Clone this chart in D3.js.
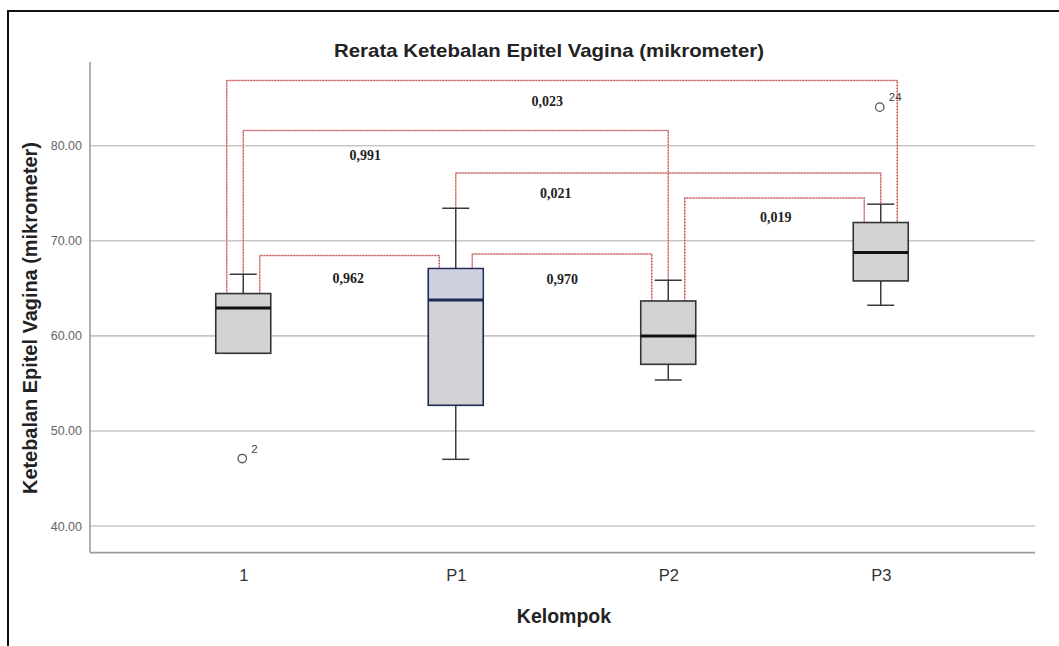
<!DOCTYPE html>
<html><head><meta charset="utf-8">
<script src="https://cdn.jsdelivr.net/npm/d3@7/dist/d3.min.js"></script>
<style>html,body{margin:0;padding:0;background:#fff;}svg{display:block;}</style>
</head><body>
<svg id="chart" width="1059" height="646"></svg>
<script>
// ---- data ----
const categories = ["1", "P1", "P2", "P3"];
const q1 = [58.17, 52.70, 57.01, 65.78];
const medians = [62.94, 63.78, 59.99, 68.76];
const q3 = [64.45, 67.08, 63.67, 71.92];
const whiskerLow = [58.17, 47.02, 55.36, 63.22];
const whiskerHigh = [66.48, 73.42, 65.85, 73.85];
const outlierGroups = ["1", "P3"];
const outlierValues = [47.1, 84.05];
const outlierLabels = ["2", "24"];
const yTicks = [40, 50, 60, 70, 80];
const bracketFrom = ["1", "P1", "P2", "1", "P1", "1"];
const bracketTo = ["P1", "P2", "P3", "P2", "P3", "P3"];
const bracketLevel = [68.45, 68.61, 74.5, 81.6, 77.13, 86.85];
const bracketText = ["0,962", "0,970", "0,019", "0,991", "0,021", "0,023"];
const bracketTextLevel = [66.0, 65.9, 72.4, 79.0, 74.97, 84.6];
const bracketTextPos = [0.494, 0.501, 0.506, 0.287, 0.235, 0.477];
const bracketLeftSide = [1, 1, 1, 0, 0, -1];
const bracketRightSide = [-1, -1, -1, 0, 0, 1];

// ---- layout ----
const svg = d3.select("#chart");
const plotL = 90, plotR = 1035, plotT = 62, plotB = 552.7;
const x = d3.scalePoint().domain(categories).range([137, 987]).padding(0.5);
const y = d3.scaleLinear().domain([37.2, 88.8]).range([plotB, plotT]);
const boxW = 55, capW = 27, sideOff = 16.5;
const sans = "Liberation Sans, Arial, sans-serif";

// outer frame
svg.append("line").attr("x1", 8).attr("x2", 1059).attr("y1", 11).attr("y2", 11)
  .attr("stroke", "#111").attr("stroke-width", 2);
svg.append("line").attr("x1", 8).attr("x2", 8).attr("y1", 10).attr("y2", 646)
  .attr("stroke", "#111").attr("stroke-width", 2);

// gridlines
svg.append("g").selectAll("line").data(yTicks).join("line")
  .attr("x1", plotL).attr("x2", plotR)
  .attr("y1", d => y(d)).attr("y2", d => y(d))
  .attr("stroke", "#c6c6c6").attr("stroke-width", 1.6);

// y axis
const yAxis = d3.axisLeft(y).tickValues(yTicks).tickFormat(d3.format(".2f")).tickSize(0).tickPadding(8);
const gy = svg.append("g").attr("transform", `translate(${plotL},0)`).call(yAxis);
gy.select(".domain").remove();
gy.selectAll("text").attr("font-family", sans)
  .attr("font-size", 12.5).attr("fill", "#666");
svg.append("line").attr("x1", plotL).attr("x2", plotL).attr("y1", plotT).attr("y2", plotB)
  .attr("stroke", "#a8a8a8").attr("stroke-width", 1.8);

// x axis
const xAxis = d3.axisBottom(x).tickSize(0).tickPadding(17);
const gx = svg.append("g").attr("transform", `translate(0,${plotB})`).call(xAxis);
gx.select(".domain").remove();
gx.selectAll("text").attr("font-family", sans)
  .attr("font-size", 16.5).attr("fill", "#333");
svg.append("line").attr("x1", plotL).attr("x2", plotR).attr("y1", plotB).attr("y2", plotB)
  .attr("stroke", "#9a9a9a").attr("stroke-width", 1.8);

// titles
svg.append("text").attr("x", 549).attr("y", 57).attr("text-anchor", "middle")
  .attr("font-family", sans).attr("font-weight", "bold")
  .attr("font-size", 19).attr("textLength", 430).attr("lengthAdjust", "spacingAndGlyphs")
  .attr("fill", "#222").text("Rerata Ketebalan Epitel Vagina (mikrometer)");
svg.append("text").attr("transform", "translate(37,318) rotate(-90)").attr("text-anchor", "middle")
  .attr("font-family", sans).attr("font-weight", "bold")
  .attr("font-size", 19.5).attr("textLength", 352).attr("lengthAdjust", "spacingAndGlyphs")
  .attr("fill", "#222").text("Ketebalan Epitel Vagina (mikrometer)");
svg.append("text").attr("x", 564).attr("y", 623).attr("text-anchor", "middle")
  .attr("font-family", sans).attr("font-weight", "bold")
  .attr("font-size", 19.5).attr("fill", "#222").text("Kelompok");

// brackets
const bracketG = svg.append("g");
bracketFrom.forEach((f, i) => {
  const fi = categories.indexOf(f), ti = categories.indexOf(bracketTo[i]);
  const xl = x(f) + bracketLeftSide[i] * sideOff;
  const xr = x(bracketTo[i]) + bracketRightSide[i] * sideOff;
  const endL = bracketLeftSide[i] === 0 ? whiskerHigh[fi] : q3[fi];
  const endR = bracketRightSide[i] === 0 ? whiskerHigh[ti] : q3[ti];
  const yl = y(bracketLevel[i]);
  const pts = [[xl, y(endL)], [xl, yl], [xr, yl], [xr, y(endR)]];
  const line = d3.line();
  bracketG.append("path").attr("d", line(pts)).attr("fill", "none")
    .attr("stroke", "#f09a9a").attr("stroke-width", 1.4);
  bracketG.append("path").attr("d", line(pts)).attr("fill", "none")
    .attr("stroke", "#8f5050").attr("stroke-width", 1.1).attr("stroke-dasharray", "1,2");
  const tx = x(f) + bracketTextPos[i] * (x(bracketTo[i]) - x(f));
  bracketG.append("text").attr("x", tx).attr("y", y(bracketTextLevel[i]))
    .attr("text-anchor", "middle").attr("dominant-baseline", "central")
    .attr("font-family", "Liberation Serif, Times New Roman, serif").attr("font-weight", "bold")
    .attr("font-size", 14).attr("fill", "#222").text(bracketText[i]);
});

// boxes
const boxG = svg.append("g");
categories.forEach((c, i) => {
  const cx = x(c);
  const isSel = c === "P1";
  const stroke = isSel ? "#1d2a55" : "#333";
  boxG.append("line").attr("x1", cx).attr("x2", cx).attr("y1", y(q3[i])).attr("y2", y(whiskerHigh[i]))
    .attr("stroke", "#3a3a3a").attr("stroke-width", 1.5);
  boxG.append("line").attr("x1", cx).attr("x2", cx).attr("y1", y(q1[i])).attr("y2", y(whiskerLow[i]))
    .attr("stroke", "#3a3a3a").attr("stroke-width", 1.5);
  if (whiskerHigh[i] > q3[i]) boxG.append("line").attr("x1", cx - capW / 2).attr("x2", cx + capW / 2)
    .attr("y1", y(whiskerHigh[i])).attr("y2", y(whiskerHigh[i])).attr("stroke", "#3a3a3a").attr("stroke-width", 1.5);
  if (whiskerLow[i] < q1[i]) boxG.append("line").attr("x1", cx - capW / 2).attr("x2", cx + capW / 2)
    .attr("y1", y(whiskerLow[i])).attr("y2", y(whiskerLow[i])).attr("stroke", "#3a3a3a").attr("stroke-width", 1.5);
  boxG.append("rect").attr("x", cx - boxW / 2).attr("width", boxW)
    .attr("y", y(q3[i])).attr("height", y(q1[i]) - y(q3[i]))
    .attr("fill", isSel ? "#d2d2d6" : "#d3d3d3").attr("stroke", stroke).attr("stroke-width", 1.6);
  if (isSel) boxG.append("rect").attr("x", cx - boxW / 2 + 1).attr("width", boxW - 2)
    .attr("y", y(q3[i]) + 1).attr("height", y(medians[i]) - y(q3[i]) - 1)
    .attr("fill", "#cdd0de");
  boxG.append("line").attr("x1", cx - boxW / 2).attr("x2", cx + boxW / 2)
    .attr("y1", y(medians[i])).attr("y2", y(medians[i]))
    .attr("stroke", isSel ? "#1d2a55" : "#111").attr("stroke-width", 3);
});

// outliers
const oG = svg.append("g");
outlierGroups.forEach((g, i) => {
  oG.append("circle").attr("cx", x(g) - 1).attr("cy", y(outlierValues[i])).attr("r", 4.2)
    .attr("fill", "none").attr("stroke", "#555").attr("stroke-width", 1.3);
  oG.append("text").attr("x", x(g) + 8).attr("y", y(outlierValues[i]) - 6)
    .attr("font-family", sans).attr("font-size", 11.5)
    .attr("fill", "#444").text(outlierLabels[i]);
});
</script>
</body></html>
